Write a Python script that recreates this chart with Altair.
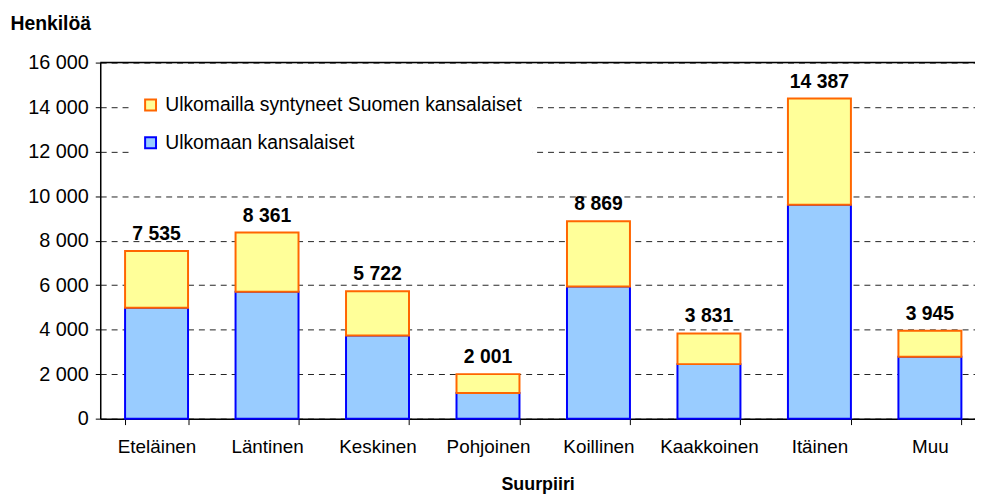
import altair as alt
import pandas as pd

districts = ["Eteläinen", "Läntinen", "Keskinen", "Pohjoinen", "Koillinen", "Kaakkoinen", "Itäinen", "Muu"]
totals = [7535, 8361, 5722, 2001, 8869, 3831, 14387, 3945]
foreign_citizens = [4980, 5700, 3740, 1150, 5940, 2450, 9610, 2780]
series_names = ["Ulkomailla syntyneet Suomen kansalaiset", "Ulkomaan kansalaiset"]
fill_colors = ["#FFFF99", "#99CCFF"]
stroke_colors = ["#FF6600", "#0000FF"]
y_ticks = [0, 2000, 4000, 6000, 8000, 10000, 12000, 14000, 16000]

rows = []
for d, t, f in zip(districts, totals, foreign_citizens):
    rows.append({"district": d, "series": series_names[1], "value": f, "ord": 0})
for d, t, f in zip(districts, totals, foreign_citizens):
    rows.append({"district": d, "series": series_names[0], "value": t - f, "ord": 1})
df = pd.DataFrame(rows)

tot_df = pd.DataFrame({
    "district": districts,
    "total": totals,
    "label": [f"{t:,}".replace(",", " ") for t in totals],
})
top_df = pd.DataFrame({"y": [y_ticks[-1]]})

FONT = "Liberation Sans"

legend_def = alt.Legend(
    orient="none", legendX=31, legendY=23, title=None, fillColor="white",
    padding=10, symbolType="square", symbolSize=121, symbolStrokeWidth=2,
    labelFontSize=19.5, labelFont=FONT, labelColor="black", rowPadding=17,
    labelOffset=5, labelLimit=600,
)

x_enc = alt.X(
    "district:N", sort=districts, title="Suurpiiri",
    scale=alt.Scale(paddingInner=0.43, paddingOuter=0.174, align=0.646),
    axis=alt.Axis(
        labelAngle=0, tickBand="extent", tickSize=6, labelPadding=13,
        labelFontSize=19, labelFont=FONT, labelColor="black",
        titleFontSize=18, titleFont=FONT, titleFontWeight="bold", titleColor="black",
        titlePadding=19, domainColor="black", tickColor="black", domainWidth=1.5,
    ),
)

bars = alt.Chart(df).mark_bar(strokeWidth=2).encode(
    x=x_enc,
    y=alt.Y(
        "value:Q", stack="zero",
        scale=alt.Scale(domain=[0, 16000], nice=False),
        axis=alt.Axis(
            values=y_ticks,
            labelExpr="replace(format(datum.value, ','), ',', ' ')",
            grid=True, gridDash=[6, 5], gridColor="#222222", gridWidth=1,
            tickSize=5, tickColor="black", domainColor="black", domainWidth=1.5,
            labelPadding=7, labelFontSize=20, labelFont=FONT, labelColor="black",
            title="Henkilöä", titleAngle=0, titleAlign="left", titleBaseline="middle",
            titleX=-91, titleY=-39, titleFontSize=19.5, titleFont=FONT,
            titleFontWeight="bold", titleColor="black",
        ),
    ),
    fill=alt.Fill("series:N", scale=alt.Scale(domain=series_names, range=fill_colors), legend=legend_def),
    stroke=alt.Stroke("series:N", scale=alt.Scale(domain=series_names, range=stroke_colors), legend=legend_def),
    order=alt.Order("ord:Q"),
)

labels = alt.Chart(tot_df).mark_text(
    baseline="bottom", dy=-7, fontSize=19.5, fontWeight="bold", font=FONT, color="black"
).encode(
    x=alt.X("district:N", sort=districts),
    y=alt.Y("total:Q"),
    text="label:N",
)

top_line = alt.Chart(top_df).mark_rule(color="black", strokeWidth=1.5).encode(y="y:Q")

chart = alt.layer(bars, top_line, labels).properties(
    width=882, height=359,
    padding={"left": 93, "top": 53, "right": 0, "bottom": 82},
    autosize=alt.AutoSizeParams(type="none"),
).configure_view(stroke=None).configure(font=FONT)

chart.save("out.html", embed_options={"renderer": "svg", "actions": False})
